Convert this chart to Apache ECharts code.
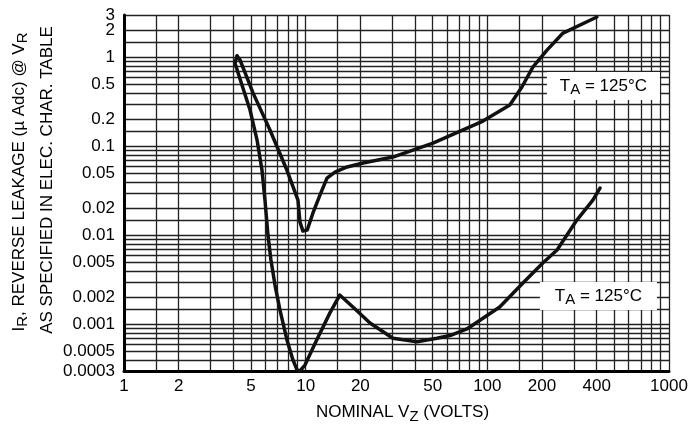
<!DOCTYPE html>
<html>
<head>
<meta charset="utf-8">
<script src="https://cdn.jsdelivr.net/npm/echarts@6/dist/echarts.min.js"></script>
<style>
  html, body { margin: 0; padding: 0; background: #fff; }
  #chart { width: 694px; height: 427px; }
</style>
</head>
<body>
<div id="chart"></div>
<script>
// tick labels
const xTicks = [1, 2, 5, 10, 20, 50, 100, 200, 400, 1000];
const yTicks = [3, 2, 1, 0.5, 0.2, 0.1, 0.05, 0.02, 0.01, 0.005, 0.002, 0.001, 0.0005, 0.0003];

// grid lines: these mantissas in every decade
const gridMantissas = [1, 1.5, 2, 3, 4, 5, 6, 7, 8, 9];
const xDecades = [1, 10, 100, 1000];
const yDecades = [0.0001, 0.001, 0.01, 0.1, 1];

// upper curve
const upperVz = [4.19, 4.35, 5.13, 6.36, 7.89, 9.07, 9.3, 9.66, 10.2, 10.97, 12.0, 13.1, 14.5, 16.9, 20.7, 30.2, 50.2, 80.2, 94.6, 133, 155, 178, 213, 261, 401];
const upperIr = [1.04, 0.94, 0.40, 0.153, 0.054, 0.025, 0.0142, 0.0112, 0.0115, 0.0179, 0.0285, 0.044, 0.0516, 0.0588, 0.0652, 0.076, 0.109, 0.166, 0.193, 0.292, 0.466, 0.78, 1.21, 1.88, 2.85];

// lower curve
const lowerVz = [4.19, 4.08, 4.46, 4.94, 5.4, 5.75, 5.97, 6.2, 6.44, 6.78, 7.22, 7.89, 8.51, 8.96, 9.3, 9.91, 11.5, 13.6, 15.4, 18.2, 22.6, 30.2, 41.0, 52.8, 62.3, 77.2, 117, 157, 202, 242, 311, 381, 417];
const lowerIr = [1.04, 0.867, 0.49, 0.257, 0.118, 0.054, 0.025, 0.0101, 0.0053, 0.00277, 0.00145, 0.00067, 0.0004, 0.00031, 0.0003, 0.00035, 0.00067, 0.00135, 0.00214, 0.00157, 0.00104, 0.0007, 0.00064, 0.0007, 0.00075, 0.00089, 0.00157, 0.00292, 0.0049, 0.00687, 0.0149, 0.025, 0.0341];

const FONT = 'Liberation Sans, Arial, sans-serif';
const Y_MIN = 0.0003;
const Y_MAX = 3.000001;

const buildGrid = (decades, lo, hi) => {
    const out = [];
    decades.forEach(d => gridMantissas.forEach(m => {
        const v = +(m * d).toPrecision(6);
        if (v >= lo && v <= hi && out.indexOf(v) < 0) out.push(v);
    }));
    return out;
};
const xGrid = buildGrid(xDecades, 1, 1000);
const yGrid = buildGrid(yDecades, 0.0003, 3);

const fmt = v => String(+Number(v).toPrecision(4));

const labelRich = {
    t: { fontFamily: FONT, fontSize: 17, color: '#000' },
    s: { fontFamily: FONT, fontSize: 15, color: '#000', padding: [8, 0, 0, 0] }
};

const tempLabel = {
    show: true,
    position: 'inside',
    formatter: '{t|T}{s|A}{t| = 125°C}',
    rich: labelRich
};

const yLabelStyle = {
    formatter: fmt,
    color: '#000',
    fontFamily: FONT,
    fontSize: 17,
    margin: 9,
    hideOverlap: false,
    showMinLabel: true,
    showMaxLabel: true
};

const myChart = echarts.init(document.getElementById('chart'), null, { renderer: 'canvas' });
const option = {
    animation: false,
    backgroundColor: '#fff',
    grid: {
        left: 124,
        right: 25,
        top: 15,
        bottom: 56,
        outerBoundsMode: 'none'
    },
    xAxis: {
        type: 'log',
        logBase: 10,
        min: 1,
        max: 1000.0001,
        axisLine: { show: true, onZero: false, lineStyle: { color: '#000', width: 3 } },
        axisTick: { show: false, customValues: xGrid },
        axisLabel: {
            customValues: xTicks,
            formatter: fmt,
            color: '#000',
            fontFamily: FONT,
            fontSize: 17,
            margin: 7,
            hideOverlap: false,
            showMinLabel: true,
            showMaxLabel: true
        },
        splitLine: { show: true, lineStyle: { color: '#222', width: 1.3 } },
        minorTick: { show: false },
        minorSplitLine: { show: false },
        name: '{t|NOMINAL V}{s|Z}{t| (VOLTS)}',
        nameLocation: 'middle',
        nameGap: 30,
        nameTextStyle: { rich: labelRich, padding: [0, 0, 0, 12] }
    },
    yAxis: [
        {
            type: 'log',
            logBase: 10,
            min: Y_MIN,
            max: Y_MAX,
            position: 'left',
            axisLine: { show: true, onZero: false, lineStyle: { color: '#000', width: 3 } },
            axisTick: { show: false, customValues: yGrid },
            axisLabel: Object.assign({ customValues: yTicks.slice(1) }, yLabelStyle),
            splitLine: { show: true, lineStyle: { color: '#222', width: 1.3 } },
            minorTick: { show: false },
            minorSplitLine: { show: false }
        },
        {
            // top label "3" sits on its own axis so it is not dropped next to "2"
            type: 'log',
            logBase: 10,
            min: Y_MIN,
            max: Y_MAX,
            position: 'left',
            offset: 0,
            axisLine: { show: false },
            axisTick: { show: false, customValues: yTicks.slice(0, 1) },
            axisLabel: Object.assign({ customValues: yTicks.slice(0, 1) }, yLabelStyle),
            splitLine: { show: false },
            minorTick: { show: false },
            minorSplitLine: { show: false }
        }
    ],
    graphic: [
        {
            type: 'text',
            x: 19,
            y: 182,
            rotation: Math.PI / 2,
            style: {
                text: '{t|I}{s|R}{t|, REVERSE LEAKAGE (µ Adc) @ V}{s|R}',
                rich: labelRich,
                align: 'center',
                verticalAlign: 'middle'
            }
        },
        {
            type: 'text',
            x: 47,
            y: 180,
            rotation: Math.PI / 2,
            style: {
                text: 'AS SPECIFIED IN ELEC. CHAR. TABLE',
                fontFamily: FONT,
                fontSize: 17,
                fill: '#000',
                align: 'center',
                verticalAlign: 'middle'
            }
        }
    ],
    series: [
        {
            name: 'upper',
            type: 'line',
            yAxisIndex: 0,
            data: upperVz.map((v, i) => [v, upperIr[i]]),
            showSymbol: false,
            smooth: false,
            lineStyle: { color: '#111', width: 3.5, join: 'round', cap: 'round' },
            markPoint: {
                silent: true,
                symbol: 'rect',
                symbolSize: [113, 28],
                itemStyle: { color: '#fff' },
                label: tempLabel,
                data: [{ coord: [435.5, 0.478] }]
            }
        },
        {
            name: 'lower',
            type: 'line',
            yAxisIndex: 0,
            data: lowerVz.map((v, i) => [v, lowerIr[i]]),
            showSymbol: false,
            smooth: false,
            lineStyle: { color: '#111', width: 3.5, join: 'round', cap: 'round' },
            markPoint: {
                silent: true,
                symbol: 'rect',
                symbolSize: [117, 28],
                itemStyle: { color: '#fff' },
                label: tempLabel,
                data: [{ coord: [408.7, 0.00209] }]
            }
        }
    ]
};
myChart.setOption(option);
</script>
</body>
</html>
